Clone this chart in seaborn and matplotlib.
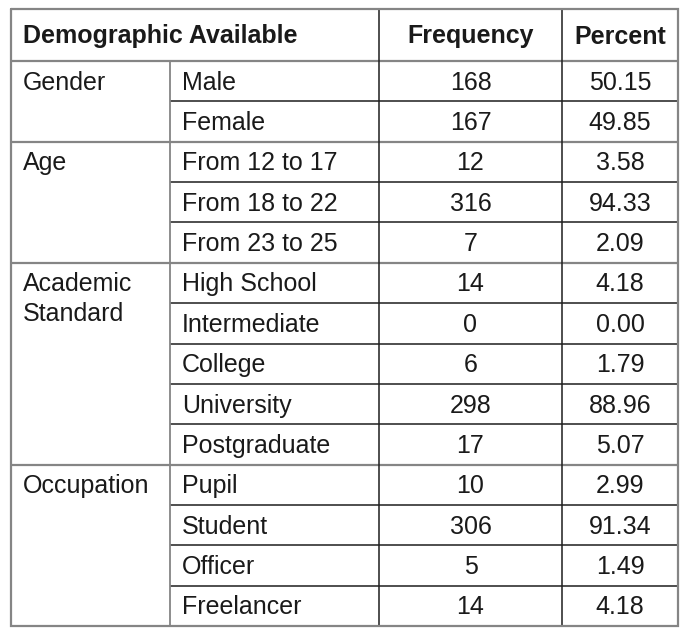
import matplotlib.pyplot as plt
import seaborn as sns

# --- Table data ---
groups = ["Gender", "Age", "Academic\nStandard", "Occupation"]
group_sizes = [2, 3, 5, 4]
categories = [
    "Male", "Female",
    "From 12 to 17", "From 18 to 22", "From 23 to 25",
    "High School", "Intermediate", "College", "University", "Postgraduate",
    "Pupil", "Student", "Officer", "Freelancer",
]
frequency = [168, 167, 12, 316, 7, 14, 0, 6, 298, 17, 10, 306, 5, 14]
percent = [50.15, 49.85, 3.58, 94.33, 2.09, 4.18, 0.00, 1.79, 88.96, 5.07,
           2.99, 91.34, 1.49, 4.18]
headers = ["Demographic Available", "Frequency", "Percent"]

sns.set_theme(style="white")
plt.rcParams["font.family"] = ["Liberation Sans", "DejaVu Sans"]

fig = plt.figure(figsize=(6.99, 6.30), dpi=100)
ax = fig.add_axes([0, 0, 1, 1])
ax.set_xlim(0, 699)
ax.set_ylim(630, 0)
ax.axis("off")

# layout (pixels)
x_left, x_c1, x_c2, x_c3, x_right = 11, 170, 379, 562, 678
y_top, y_head, y_bot = 9, 61, 626
row_h = (y_bot - y_head) / len(categories)
dy = 1.5  # small nudge so caps sit at row centre
fs = 18
txt = "#1a1a1a"
outer = "#858585"
inner = "#1e1e1e"

# header
hy = (y_top + y_head) / 2 + dy
ax.text(x_left + 12, hy, headers[0], fontsize=fs, fontweight="bold", va="center", color=txt)
ax.text((x_c2 + x_c3) / 2, hy, headers[1], fontsize=fs, fontweight="bold", va="center", ha="center", color=txt)
ax.text((x_c3 + x_right) / 2, hy, headers[2], fontsize=fs, fontweight="bold", va="center", ha="center", color=txt)

# rows
for i, (cat, f, p) in enumerate(zip(categories, frequency, percent)):
    cy = y_head + (i + 0.5) * row_h + dy
    ax.text(x_c1 + 12, cy, cat, fontsize=fs, va="center", color=txt)
    ax.text((x_c2 + x_c3) / 2, cy, f"{f}", fontsize=fs, va="center", ha="center", color=txt)
    ax.text((x_c3 + x_right) / 2, cy, f"{p:.2f}", fontsize=fs, va="center", ha="center", color=txt)

# group labels and separators
start = 0
for g, n in zip(groups, group_sizes):
    cy = y_head + (start + 0.5) * row_h + dy
    for k, line in enumerate(g.split("\n")):
        ax.text(x_left + 12, cy + k * 30, line, fontsize=fs, va="center", color=txt)
    for k in range(1, n):
        ax.hlines(y_head + (start + k) * row_h, x_c1, x_right, color=inner, lw=1.1)
    start += n
    if start < len(categories):
        ax.hlines(y_head + start * row_h, x_left, x_right, color=outer, lw=1.6)

# grid lines
ax.hlines(y_head, x_left, x_right, color=outer, lw=1.6)
ax.vlines(x_c1, y_head, y_bot, color=outer, lw=1.3)
ax.vlines([x_c2, x_c3], y_top, y_bot, color=inner, lw=1.1)
ax.plot([x_left, x_right, x_right, x_left, x_left], [y_top, y_top, y_bot, y_bot, y_top],
        color=outer, lw=1.6, solid_joinstyle="miter")

plt.savefig("out.png", dpi=100)
